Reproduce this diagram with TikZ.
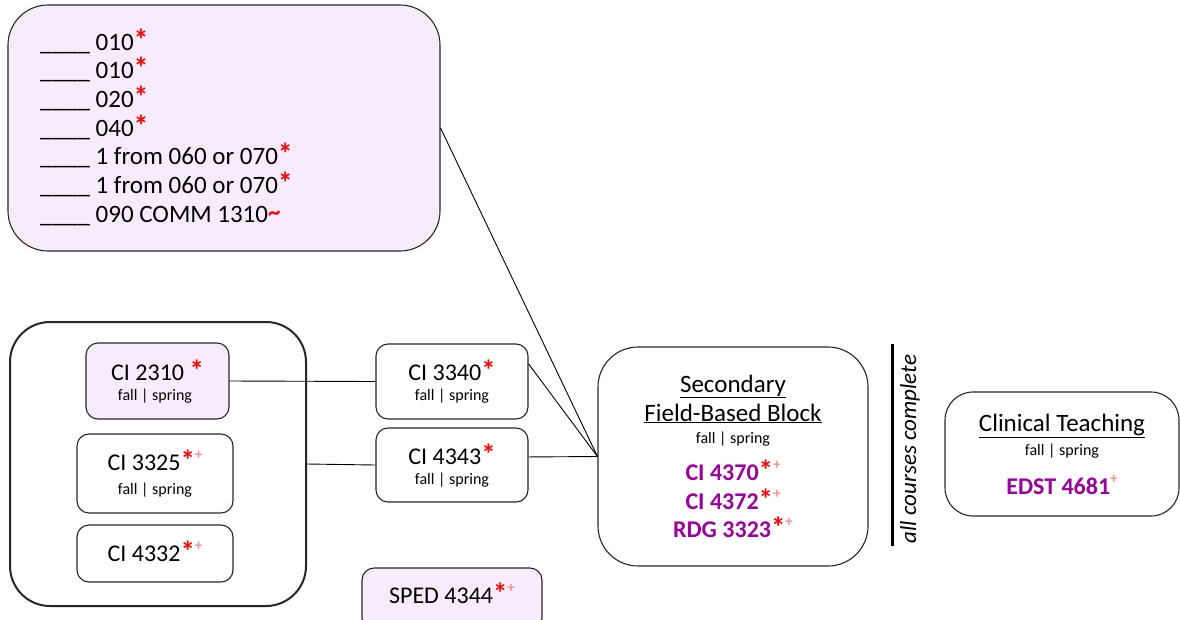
\documentclass[tikz,border=0pt]{standalone}
\usepackage{fontspec}
\setmainfont{Carlito}
\definecolor{lav}{HTML}{F8ECFC}
\definecolor{starred}{HTML}{FF0000}
\definecolor{pinkp}{HTML}{FF8F8F}
\definecolor{purp}{HTML}{990099}
\newcommand{\st}{{\color{starred}\bfseries\smash{\scalebox{1.2}{*}}}}
\newcommand{\pl}{{\color{pinkp}\smash{\raisebox{0.42em}{\fontsize{15}{15}\selectfont\bfseries +}}}}
\newcommand{\tl}{{\color{starred}\bfseries\smash{\raisebox{0.08em}{\textasciitilde}}}}
\begin{document}
\begin{tikzpicture}[x=1pt,y=-1pt,
  box/.style={draw=black!85, line width=1.1pt, rounded corners=12pt, inner sep=0pt},
  bigbox/.style={box, rounded corners=40pt},
  lbl/.style={inner sep=0pt, font=\fontsize{24}{28}\selectfont},
  lst/.style={inner sep=0pt, font=\fontsize{25}{28}\selectfont},
  hdr/.style={inner sep=0pt, font=\fontsize{25}{29}\selectfont},
  sub/.style={inner sep=0pt, font=\fontsize{16}{18}\selectfont},
  pur/.style={inner sep=0pt, text=purp, font=\fontsize{24}{28}\selectfont\bfseries},
  conn/.style={draw=black, line width=0.9pt}]
\useasboundingbox (0,0) rectangle (1180,619);
% boxes
\node[bigbox, fill=lav, minimum width=432pt, minimum height=246pt] (top) at (224,128) {};
\node[bigbox, line width=2pt, minimum width=296pt, minimum height=284pt] (left) at (158,464) {};
\node[box, fill=lav, minimum width=143pt, minimum height=76pt] (ci2310) at (157.5,381) {};
\node[box, minimum width=156pt, minimum height=79pt] (ci3325) at (155,473.5) {};
\node[box, minimum width=156pt, minimum height=57pt] (ci4332) at (155,553.5) {};
\node[box, minimum width=152pt, minimum height=75pt] (ci3340) at (452,381.5) {};
\node[box, minimum width=152pt, minimum height=74pt] (ci4343) at (452,465) {};
\node[box, fill=lav, minimum width=180pt, minimum height=62pt] (sped) at (452,599) {};
\node[bigbox, minimum width=270pt, minimum height=219pt] (sec) at (733,456.5) {};
\node[bigbox, rounded corners=28pt, minimum width=234pt, minimum height=124pt] (clin) at (1062,454) {};
% connectors
\draw[conn] (top.east) -- (sec.west);
\draw[conn] (ci3340.13) -- (sec.west);
\draw[conn] (ci4343.6) -- (sec.west);
\draw[conn] (ci2310.east) -- (ci3340.west);
\draw[conn] (left.east) -- (ci4343.west);
% top list
\node[lst, anchor=base west] (l1) at (40,50) {\_\_\_\_ 010\st};
\node[lst, anchor=base west] (l2) at (40,78.7) {\_\_\_\_ 010\st};
\node[lst, anchor=base west] (l3) at (40,107.4) {\_\_\_\_ 020\st};
\node[lst, anchor=base west] (l4) at (40,136) {\_\_\_\_ 040\st};
\node[lst, anchor=base west] (l5) at (40,164.7) {\_\_\_\_ 1 from 060 or 070\st};
\node[lst, anchor=base west] (l6) at (40,193.4) {\_\_\_\_ 1 from 060 or 070\st};
\node[lst, anchor=base west] (l7) at (40,222) {\_\_\_\_ 090 COMM 1310\tl};
% course labels
\node[lbl, anchor=base] (t2310) at (157.5,380) {CI 2310 \st};
\node[sub, anchor=base] (f2310) at (155,400) {fall | spring};
\node[lbl, anchor=base] (t3325) at (155,470) {CI 3325\st\pl};
\node[sub, anchor=base] (f3325) at (155,494) {fall | spring};
\node[lbl, anchor=base] (t4332) at (155,561) {CI 4332\st\pl};
\node[lbl, anchor=base] (t3340) at (452,380) {CI 3340\st};
\node[sub, anchor=base] (f3340) at (452,400) {fall | spring};
\node[lbl, anchor=base] (t4343) at (452,464) {CI 4343\st};
\node[sub, anchor=base] (f4343) at (452,484) {fall | spring};
\node[lbl, anchor=base] (tsped) at (452,603) {SPED 4344\st\pl};
% secondary block
\node[hdr, anchor=base] (s1) at (733,392) {\underline{Secondary}};
\node[hdr, anchor=base] (s2) at (733,421) {\underline{Field-Based Block}};
\node[sub, anchor=base] (s3) at (733,443) {fall | spring};
\node[pur, anchor=base] (s4) at (733,480) {CI 4370\st\pl};
\node[pur, anchor=base] (s5) at (733,509) {CI 4372\st\pl};
\node[pur, anchor=base] (s6) at (733,537) {RDG 3323\st\pl};
% separator
\coordinate (vt) at (892,344);
\coordinate (vb) at (892,546);
\draw[line width=3pt] (vt) -- (vb);
\node[inner sep=0pt, rotate=90, font=\fontsize{23}{27}\selectfont\itshape] (allc) at (910,449) {all courses complete};
% clinical
\node[hdr, anchor=base] (c1) at (1062,431) {\underline{Clinical Teaching}};
\node[sub, anchor=base] (c2) at (1062,455) {fall | spring};
\node[pur, anchor=base] (c3) at (1062,494) {EDST 4681\pl};
\end{tikzpicture}
\end{document}
